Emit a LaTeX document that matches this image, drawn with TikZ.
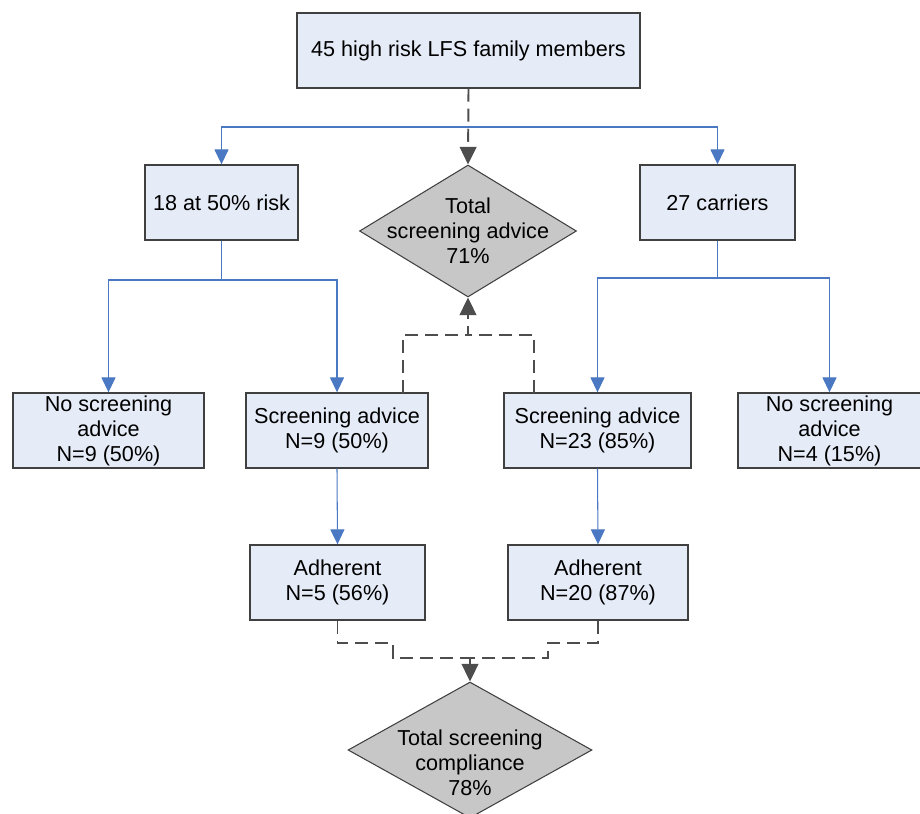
\documentclass[tikz,border=0pt]{standalone}
\usepackage{fontspec}
\setmainfont{Liberation Sans}
\usetikzlibrary{shapes.geometric,arrows.meta}
\definecolor{boxfill}{HTML}{E6ECF7}
\definecolor{boxline}{HTML}{404040}
\definecolor{flowblue}{HTML}{4A78C2}
\definecolor{diafill}{HTML}{C6C7C6}
\definecolor{dashgray}{HTML}{4D4D4D}
\tikzset{
    box/.style={draw=boxline,line width=0.8pt,fill=boxfill,align=center,inner sep=0pt,minimum height=1.5cm},
    decision/.style={draw=boxline,line width=0.6pt,fill=diafill,shape=diamond,inner sep=0pt},
    flow/.style={draw=flowblue,line width=0.6pt,-{Triangle[width=8pt,length=8.5pt]}},
    dflow/.style={draw=dashgray,line width=1.1pt,dash pattern=on 7.4pt off 4pt,-{Triangle[width=9.5pt,length=10pt]}},
    dline/.style={draw=dashgray,line width=1.1pt,dash pattern=on 7.4pt off 4pt},
}

\begin{document}
\begin{tikzpicture}[x=0.02cm,y=-0.02cm,font=\fontsize{12.3}{14.2}\selectfont]
    \useasboundingbox (0,0) rectangle (920,814);

    \node[box,minimum width=6.86cm] (top) at (468.5,50.5) {45 high risk LFS family members};
    \node[box,minimum width=3.06cm] (risk) at (221.5,202.5) {18 at 50\% risk};
    \node[box,minimum width=3.1cm] (carr) at (717.5,202.5) {27 carriers};
    \node[decision,minimum width=4.34cm,minimum height=2.64cm] (adv) at (468,231) {};
    \node[align=center] (advtxt) at (468,231) {Total\\screening advice\\71\%};

    \node[box,minimum width=3.82cm] (noadvL) at (108.5,430.5) {No screening\\advice\\N=9 (50\%)};
    \node[box,minimum width=3.64cm] (scrL) at (337,430.5) {Screening advice\\N=9 (50\%)};
    \node[box,minimum width=3.74cm] (scrR) at (597.5,430.5) {Screening advice\\N=23 (85\%)};
    \node[box,minimum width=3.66cm] (noadvR) at (829.5,430.5) {No screening\\advice\\N=4 (15\%)};

    \node[box,minimum width=3.5cm] (adhL) at (337.5,582.5) {Adherent\\N=5 (56\%)};
    \node[box,minimum width=3.6cm] (adhR) at (598,582.5) {Adherent\\N=20 (87\%)};
    \node[decision,minimum width=4.88cm,minimum height=2.72cm] (comp) at (470,750) {};
    \node[align=center] (comptxt) at (470,763) {Total screening\\compliance\\78\%};

    \coordinate (s1) at (468.5,127);
    \coordinate (s2) at (221.5,280);
    \coordinate (s3) at (717.5,278);
    \coordinate (aL) at (403,393);
    \coordinate (aR) at (534,393);
    \coordinate (m1) at (468,335);
    \coordinate (jL) at (393,643);
    \coordinate (jR) at (548,643);
    \coordinate (m2) at (470,658);

%   split of the family
    \draw[flow] (s1) -| (risk.north);
    \draw[flow] (s1) -| (carr.north);
    \draw[dflow] (top.south) -- (adv.north);
    \draw[flow] (risk.south) -- (s2) -| (noadvL.north);
    \draw[flow] (s2) -| (scrL.north);
    \draw[flow] (carr.south) -- (s3) -| (scrR.north);
    \draw[flow] (s3) -| (noadvR.north);

%   back to the advice total
    \draw[dline] (aL) |- (m1);
    \draw[dflow] (aR) |- (m1) -- (adv.south);

    \draw[flow] (scrL.south) -- (adhL.north);
    \draw[flow] (scrR.south) -- (adhR.north);

%   compliance
    \draw[dline] (adhL.south) |- (jL) |- (m2);
    \draw[dflow] (adhR.south) |- (jR) |- (m2) -- (comp.north);
\end{tikzpicture}
\end{document}
